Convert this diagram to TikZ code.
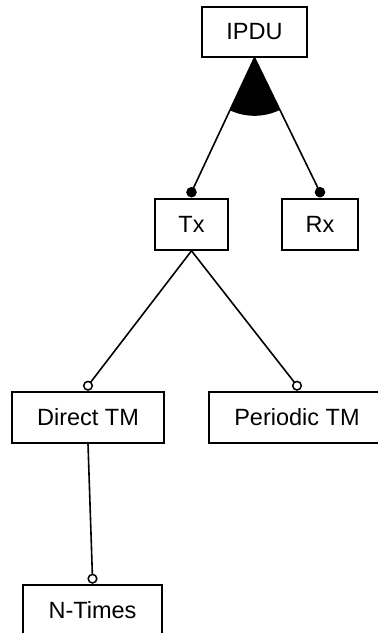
\documentclass[tikz,border=0pt]{standalone}
\usepackage{fontspec}
\setmainfont{Liberation Sans}
\usetikzlibrary{calc}
\begin{document}
\begin{tikzpicture}[x=1pt,y=-1pt,
  feature/.style={draw,line width=1.6pt,rectangle,inner sep=0pt,
    minimum height=51pt,font=\fontsize{23.5}{28}\selectfont},
  link/.style={line width=1.6pt},
  mandatory/.style={fill=black},
  optional/.style={draw,fill=white,line width=1.5pt}]
\useasboundingbox (0,0) rectangle (378,633);
\clip (0,0) rectangle (378,633);

% features
\node[feature,minimum width=105pt,minimum height=50pt] (ipdu) at (254.5,32) {IPDU};
\node[feature,minimum width=73pt] (tx) at (191.5,224.5) {Tx};
\node[feature,minimum width=76pt] (rx) at (320,224.5) {Rx};
\node[feature,minimum width=152pt] (direct) at (88,417.5) {Direct TM};
\node[feature,minimum width=176pt] (periodic) at (297,417.5) {Periodic TM};
\node[feature,minimum width=139pt] (ntimes) at (92.5,610.5) {N-Times};

% connector end points just above the child boxes
\coordinate (txdot) at ($(tx.north)+(0,-6)$);
\coordinate (rxdot) at ($(rx.north)+(0,-6)$);
\coordinate (directdot) at ($(direct.north)+(0,-5.5)$);
\coordinate (periodicdot) at ($(periodic.north)+(0,-5.5)$);
\coordinate (ntimesdot) at ($(ntimes.north)+(0,-5.5)$);

% and-group sector under IPDU
\begin{scope}
  \clip (ipdu.south) -- ($(ipdu.south)!2!(txdot)$) -- ($(ipdu.south)!2!(rxdot)$) -- cycle;
  \fill (ipdu.south) circle (58pt);
\end{scope}

% connectors
\draw[link] (ipdu.south) -- (txdot);
\draw[link] (ipdu.south) -- (rxdot);
\draw[link] (tx.south) -- (directdot);
\draw[link] (tx.south) -- (periodicdot);
\draw[link] (direct.south) -- (ntimesdot);

% mandatory and optional markers
\fill[mandatory] (txdot) circle (5.3pt);
\fill[mandatory] (rxdot) circle (5.3pt);
\draw[optional] (directdot) circle (4.3pt);
\draw[optional] (periodicdot) circle (4.3pt);
\draw[optional] (ntimesdot) circle (4.3pt);
\end{tikzpicture}
\end{document}
